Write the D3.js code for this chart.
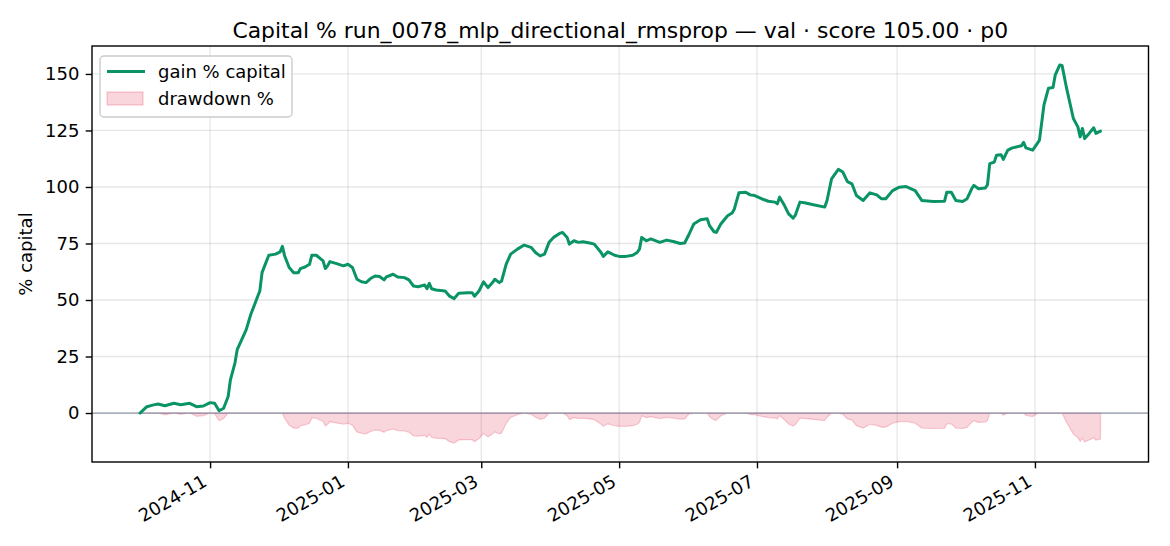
<!DOCTYPE html>
<html>
<head>
<meta charset="utf-8">
<script src="https://cdn.jsdelivr.net/npm/d3@7"></script>
<style>
  html, body { margin: 0; padding: 0; background: #fff; }
  svg { display: block; font-family: "DejaVu Sans", sans-serif; }
</style>
</head>
<body>
<svg id="chart" width="1170" height="546"></svg>
<script>
// ---- data ----
const titleText = "Capital % run_0078_mlp_directional_rmsprop \u2014 val \u00b7 score 105.00 \u00b7 p0";
const yLabel = "% capital";
const seriesNames = ["gain % capital", "drawdown %"];

const dates = [
  "2024-10-01","2024-10-04","2024-10-07","2024-10-09","2024-10-12","2024-10-16","2024-10-19","2024-10-23","2024-10-26","2024-10-29",
  "2024-11-01","2024-11-03","2024-11-05","2024-11-07","2024-11-09","2024-11-10","2024-11-12","2024-11-13","2024-11-15","2024-11-17",
  "2024-11-19","2024-11-21","2024-11-23","2024-11-24","2024-11-26","2024-11-27","2024-11-30","2024-12-02","2024-12-03","2024-12-04",
  "2024-12-06","2024-12-08","2024-12-10","2024-12-11","2024-12-13","2024-12-15","2024-12-16","2024-12-18","2024-12-21","2024-12-22",
  "2024-12-23","2024-12-24","2024-12-27","2024-12-30","2025-01-01","2025-01-03","2025-01-05","2025-01-07","2025-01-09","2025-01-11",
  "2025-01-13","2025-01-15","2025-01-17","2025-01-18","2025-01-21","2025-01-23","2025-01-26","2025-01-28","2025-01-30","2025-02-01",
  "2025-02-04","2025-02-05","2025-02-06","2025-02-07","2025-02-09","2025-02-13","2025-02-15","2025-02-17","2025-02-19","2025-02-23",
  "2025-02-25","2025-02-26","2025-02-28","2025-03-02","2025-03-04","2025-03-06","2025-03-07","2025-03-09","2025-03-10","2025-03-12",
  "2025-03-14","2025-03-17","2025-03-20","2025-03-23","2025-03-25","2025-03-27","2025-03-29","2025-03-31","2025-04-02","2025-04-05",
  "2025-04-06","2025-04-08","2025-04-09","2025-04-11","2025-04-13","2025-04-15","2025-04-18","2025-04-20","2025-04-23","2025-04-24",
  "2025-04-26","2025-04-29","2025-05-01","2025-05-04","2025-05-07","2025-05-09","2025-05-10","2025-05-11","2025-05-13","2025-05-15",
  "2025-05-19","2025-05-22","2025-05-25","2025-05-28","2025-05-30","2025-06-01","2025-06-03","2025-06-06","2025-06-09","2025-06-10",
  "2025-06-12","2025-06-13","2025-06-15","2025-06-18","2025-06-20","2025-06-21","2025-06-23","2025-06-26","2025-06-28","2025-06-30",
  "2025-07-03","2025-07-06","2025-07-09","2025-07-10","2025-07-11","2025-07-13","2025-07-15","2025-07-17","2025-07-18","2025-07-20",
  "2025-07-22","2025-07-26","2025-07-31","2025-08-01","2025-08-03","2025-08-06","2025-08-08","2025-08-10","2025-08-12","2025-08-14",
  "2025-08-17","2025-08-20","2025-08-23","2025-08-25","2025-08-27","2025-08-30","2025-09-02","2025-09-05","2025-09-09","2025-09-12",
  "2025-09-17","2025-09-22","2025-09-23","2025-09-25","2025-09-27","2025-09-30","2025-10-02","2025-10-04","2025-10-05","2025-10-07",
  "2025-10-10","2025-10-11","2025-10-12","2025-10-14","2025-10-15","2025-10-17","2025-10-18","2025-10-20","2025-10-22","2025-10-26",
  "2025-10-27","2025-10-28","2025-10-31","2025-11-02","2025-11-03","2025-11-05","2025-11-07","2025-11-09","2025-11-10","2025-11-12",
  "2025-11-13","2025-11-15","2025-11-18","2025-11-20","2025-11-21","2025-11-22","2025-11-23","2025-11-25","2025-11-27","2025-11-28",
  "2025-11-30"
];

const gainPct = [
  0.0, 2.8, 3.6, 4.0, 3.2, 4.3, 3.7, 4.3, 2.8, 3.1,
  4.6, 4.3, 1.0, 2.1, 7.3, 14.7, 22.1, 28.0, 32.5, 36.9,
  43.6, 48.8, 54.0, 62.1, 67.3, 69.8, 70.3, 71.3, 73.7, 69.5,
  64.4, 62.1, 62.1, 63.9, 64.6, 65.8, 69.8, 69.8, 67.3, 63.9,
  65.1, 67.0, 66.1, 65.1, 65.8, 64.4, 59.2, 58.1, 57.7, 59.5,
  60.6, 60.4, 58.9, 60.2, 61.4, 60.2, 59.9, 58.9, 56.2, 55.9,
  56.6, 55.0, 57.4, 55.0, 54.4, 54.0, 51.7, 50.6, 53.0, 53.2,
  53.2, 51.7, 54.0, 58.0, 55.5, 57.7, 59.2, 57.7, 58.4, 65.8,
  70.3, 72.5, 74.3, 73.3, 71.0, 69.5, 70.3, 75.5, 77.7, 79.6,
  79.9, 77.7, 74.7, 76.2, 75.5, 75.8, 75.2, 74.7, 71.0, 69.3,
  71.3, 69.8, 69.3, 69.3, 69.8, 71.0, 72.5, 77.7, 76.2, 77.0,
  75.5, 76.5, 75.9, 75.0, 75.2, 79.2, 83.6, 85.5, 85.9, 82.9,
  80.2, 79.9, 83.6, 87.3, 88.5, 90.3, 97.4, 97.7, 96.5, 96.2,
  94.8, 93.7, 93.3, 92.5, 95.5, 92.1, 88.1, 86.2, 87.6, 93.3,
  93.0, 92.1, 91.1, 94.0, 103.6, 107.8, 106.6, 102.4, 101.4, 96.2,
  94.0, 97.4, 96.5, 94.8, 94.8, 98.4, 99.9, 100.2, 98.4, 94.0,
  93.6, 93.7, 97.7, 97.7, 94.0, 93.6, 94.8, 99.2, 100.7, 99.2,
  99.5, 101.0, 110.3, 111.0, 114.0, 114.3, 112.2, 116.3, 117.3, 118.2,
  119.7, 117.3, 116.3, 119.2, 120.7, 136.3, 143.7, 144.0, 149.6, 154.0,
  153.8, 143.7, 130.3, 126.6, 122.2, 125.9, 121.4, 123.7, 126.2, 123.7,
  124.7
];

const xTickDates = ["2024-11-01","2025-01-01","2025-03-01","2025-05-01","2025-07-01","2025-09-01","2025-11-01"];
const xTickLabels = ["2024-11","2025-01","2025-03","2025-05","2025-07","2025-09","2025-11"];
const yTickValues = [0, 25, 50, 75, 100, 125, 150];

// ---- build ----
const parse = d3.utcParse("%Y-%m-%d");
const points = dates.map((d, i) => ({ date: parse(d), gain: gainPct[i] }));
// drawdown from running peak of capital
let peak = -Infinity;
points.forEach(p => {
  peak = Math.max(peak, p.gain);
  p.dd = ((1 + p.gain / 100) / (1 + peak / 100) - 1) * 100;
});

const svg = d3.select("#chart");
const m = { left: 92, right: 1148.5, top: 46, bottom: 462 };
const FS = 18, TFS = 21.9;
const GREEN = "#0a9466";

const xExt = d3.extent(points, p => p.date);
const xSpan = xExt[1] - xExt[0];
const x = d3.scaleUtc()
  .domain([new Date(+xExt[0] - 0.05 * xSpan), new Date(+xExt[1] + 0.05 * xSpan)])
  .range([m.left, m.right]);

const yMin = d3.min(points, p => Math.min(p.gain, p.dd));
const yMax = d3.max(points, p => Math.max(p.gain, p.dd));
const ySpan = yMax - yMin;
const y = d3.scaleLinear()
  .domain([yMin - 0.05 * ySpan, yMax + 0.05 * ySpan])
  .range([m.bottom, m.top]);

const xTicks = xTickDates.map(parse);

// grid
const grid = svg.append("g");
grid.selectAll("line.gx").data(xTicks).join("line")
  .attr("x1", d => x(d)).attr("x2", d => x(d))
  .attr("y1", m.top).attr("y2", m.bottom)
  .attr("stroke", "#b0b0b0").attr("stroke-opacity", 0.3).attr("stroke-width", 1.3);
grid.selectAll("line.gy").data(yTickValues).join("line")
  .attr("x1", m.left).attr("x2", m.right)
  .attr("y1", d => y(d)).attr("y2", d => y(d))
  .attr("stroke", "#b0b0b0").attr("stroke-opacity", 0.3).attr("stroke-width", 1.3);

// drawdown area
const area = d3.area().x(p => x(p.date)).y0(y(0)).y1(p => y(p.dd));
svg.append("path").datum(points)
  .attr("d", area)
  .attr("fill", "rgb(220,20,60)").attr("fill-opacity", 0.18)
  .attr("stroke", "rgb(220,20,60)").attr("stroke-opacity", 0.2).attr("stroke-width", 1.2);

// zero line
svg.append("line")
  .attr("x1", m.left).attr("x2", m.right)
  .attr("y1", y(0)).attr("y2", y(0))
  .attr("stroke", "#7f8a9c").attr("stroke-opacity", 0.85).attr("stroke-width", 1.3);

// gain line
const line = d3.line().x(p => x(p.date)).y(p => y(p.gain));
svg.append("path").datum(points)
  .attr("d", line)
  .attr("fill", "none").attr("stroke", GREEN).attr("stroke-width", 3)
  .attr("stroke-linejoin", "round").attr("stroke-linecap", "round");

// frame
svg.append("rect")
  .attr("x", m.left).attr("y", m.top)
  .attr("width", m.right - m.left).attr("height", m.bottom - m.top)
  .attr("fill", "none").attr("stroke", "#000").attr("stroke-width", 1.4);

// y axis
const yAxis = svg.append("g").attr("transform", `translate(${m.left},0)`)
  .call(d3.axisLeft(y).tickValues(yTickValues).tickSize(6.3).tickPadding(6.3).tickFormat(d3.format("d")));
yAxis.select(".domain").remove();
yAxis.selectAll("line").attr("stroke", "#000").attr("stroke-width", 1.4);
yAxis.selectAll("text").attr("font-size", FS).attr("fill", "#000")
  .attr("font-family", "DejaVu Sans, sans-serif");

// x axis
const xAxis = svg.append("g").attr("transform", `translate(0,${m.bottom})`)
  .call(d3.axisBottom(x).tickValues(xTicks).tickSize(6.3).tickFormat((d, i) => xTickLabels[i]));
xAxis.select(".domain").remove();
xAxis.selectAll("line").attr("stroke", "#000").attr("stroke-width", 1.4);
xAxis.selectAll("text")
  .attr("font-size", FS).attr("fill", "#000")
  .attr("font-family", "DejaVu Sans, sans-serif")
  .attr("text-anchor", "end")
  .attr("y", 0).attr("dy", 0)
  .attr("transform", "translate(-2.3,23) rotate(-30)");

// y label
svg.append("text")
  .attr("transform", `translate(32,${(m.top + m.bottom) / 2}) rotate(-90)`)
  .attr("text-anchor", "middle")
  .attr("font-size", FS)
  .text(yLabel);

// title
svg.append("text")
  .attr("x", (m.left + m.right) / 2).attr("y", 37.5)
  .attr("text-anchor", "middle")
  .attr("font-size", TFS)
  .text(titleText);

// legend
const lg = svg.append("g");
lg.append("rect")
  .attr("x", 100).attr("y", 56).attr("width", 192).attr("height", 61)
  .attr("rx", 4).attr("fill", "#fff").attr("fill-opacity", 0.8)
  .attr("stroke", "#cccccc").attr("stroke-width", 1.4);
lg.append("line")
  .attr("x1", 107).attr("x2", 145).attr("y1", 71.5).attr("y2", 71.5)
  .attr("stroke", GREEN).attr("stroke-width", 3);
lg.append("rect")
  .attr("x", 107).attr("y", 92).attr("width", 36).attr("height", 13)
  .attr("fill", "rgb(220,20,60)").attr("fill-opacity", 0.18)
  .attr("stroke", "rgb(220,20,60)").attr("stroke-opacity", 0.22).attr("stroke-width", 1.2);
lg.selectAll("text.l").data(seriesNames).join("text")
  .attr("x", 158).attr("y", (d, i) => 78 + i * 26.5)
  .attr("font-size", FS)
  .text(d => d);
</script>
</body>
</html>
